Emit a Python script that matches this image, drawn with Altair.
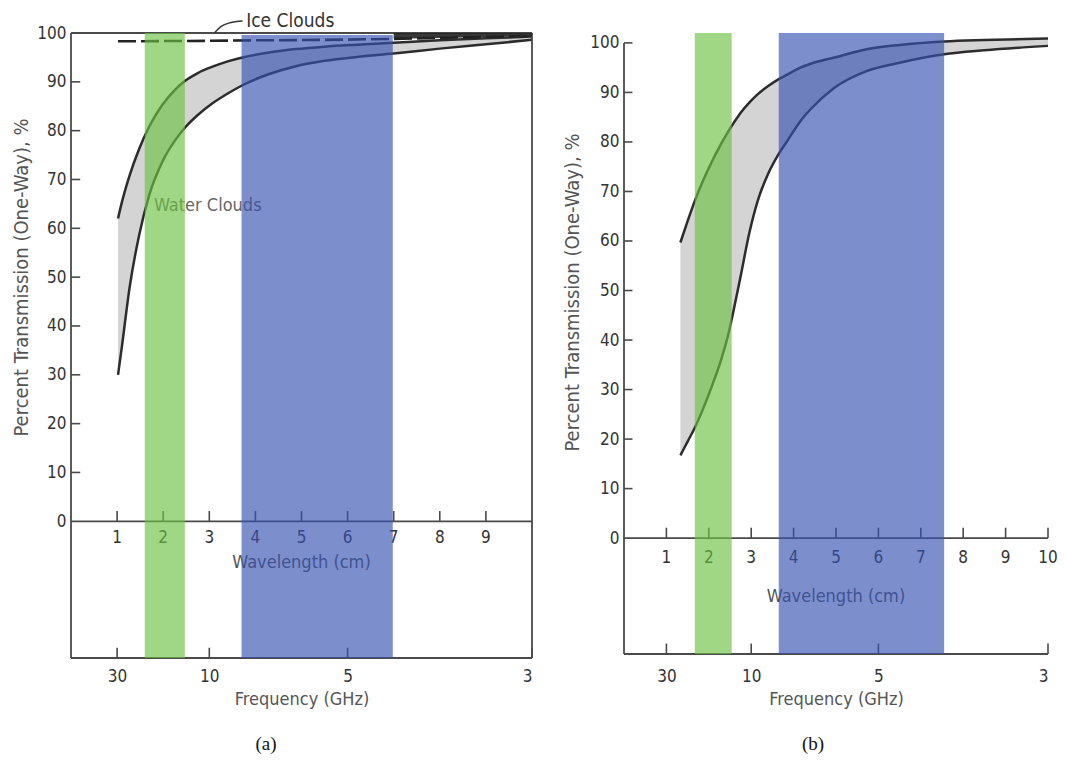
import altair as alt
import pandas as pd

FONT = "Liberation Sans Narrow, DejaVu Sans Condensed, Liberation Sans, sans-serif"
SERIF = "Liberation Serif, Times New Roman, serif"

# ---------------- data ----------------
# panel (a): water clouds envelope (wavelength in cm, % transmission)
a_wavelength = [1.02, 1.1, 1.27, 1.48, 1.7, 1.99, 2.25, 2.49, 2.75, 3.07, 3.4, 3.72, 4.3, 4.88, 5.5, 6.2, 7.0, 8.0, 9.0, 10.0]
a_upper = [62.0, 65.2, 70.8, 76.3, 80.9, 85.4, 88.3, 90.3, 91.8, 93.1, 94.2, 95.0, 96.0, 96.7, 97.2, 97.6, 98.0, 98.5, 98.9, 99.3]
a_lower = [30.0, 35.5, 47.8, 58.7, 66.9, 73.8, 77.9, 80.8, 83.2, 85.6, 87.6, 89.3, 91.6, 93.2, 94.3, 95.1, 95.8, 96.8, 97.7, 98.6]
# panel (a): ice clouds lower bound
ice_wavelength = [1.02, 2.0, 3.0, 4.0, 5.0, 6.0, 7.0, 8.0, 9.0, 10.0]
ice_lower = [98.3, 98.35, 98.4, 98.5, 98.55, 98.65, 98.8, 99.0, 99.2, 99.4]
# leader from the "Ice Clouds" label
leader_wavelength = [3.12, 3.25, 3.45, 3.72]
leader_pct = [100.1, 101.3, 102.1, 102.45]

# panel (b)
b_wavelength = [1.33, 1.5, 1.67, 1.86, 2.06, 2.29, 2.45, 2.6, 2.76, 2.95, 3.15, 3.4, 3.65, 3.85, 4.16, 4.4, 4.94, 5.72, 6.5, 7.55, 8.5, 10.0]
b_upper = [59.7, 64.0, 68.1, 72.1, 75.8, 79.6, 82.0, 84.0, 86.0, 87.9, 89.6, 91.3, 92.7, 93.6, 95.0, 95.8, 97.0, 98.7, 99.6, 100.3, 100.6, 100.9]
b_lower = [16.7, 19.5, 22.3, 26.0, 30.4, 36.0, 40.8, 46.6, 53.3, 61.4, 68.0, 73.6, 77.6, 80.2, 84.2, 86.6, 90.8, 94.3, 96.0, 97.7, 98.5, 99.4]

# highlighted bands (wavelength, cm)
band_names = ["green", "blue"]
band_colors = ["#6cc244", "#3552b0"]
a_band_from = [1.60, 3.70]
a_band_to = [2.47, 6.98]
a_band_top = [100.0, 99.6]
b_band_from = [1.67, 3.65]
b_band_to = [2.54, 7.55]
b_band_top = [102.0, 102.0]

pct_ticks = [0, 10, 20, 30, 40, 50, 60, 70, 80, 90, 100]
a_inner_ticks = [10, 20, 30, 40, 50, 60, 70, 80, 90]
b_inner_ticks = [10, 20, 30, 40, 50, 60, 70, 80, 90, 100]
a_wl_ticks = [1, 2, 3, 4, 5, 6, 7, 8, 9]
b_wl_ticks = [1, 2, 3, 4, 5, 6, 7, 8, 9, 10]
freq_ghz = [30, 10, 5, 3]
freq_pos = [30 / f for f in freq_ghz]   # wavelength (cm) = 30 / f (GHz)

LINE = "#2c2c2c"
FRAME = "#4a4a4a"
TICK_LEN_CM = 0.2
TICK_LEN_PCT = 2.1


def panel(wl, upper, lower, y_min, y_max, width, height, band_from, band_to, band_top,
          inner_ticks, wl_ticks, boxed, title_x, title_y, wl_dy, wl_title_dy,
          freq_pad, caption, caption_x, caption_dy, extra=None):
    xs = alt.Scale(domain=[0, 10], nice=False, zero=False)
    ys = alt.Scale(domain=[y_min, y_max], nice=False, zero=False)
    ax_x = alt.Axis(values=freq_pos, labelExpr="format(30/datum.value, 'd')",
                    ticks=False, domain=False, grid=False,
                    labelPadding=freq_pad, labelFont=FONT, labelFontSize=17,
                    labelColor="#333", title="Frequency (GHz)", titleFont=FONT,
                    titleFontSize=18, titleFontWeight="normal", titleColor="#555",
                    titlePadding=6)
    ax_y = alt.Axis(values=pct_ticks, ticks=False, domain=False, grid=False,
                    labelPadding=5, labelFont=FONT, labelFontSize=17, labelColor="#333",
                    title="Percent Transmission (One-Way), %", titleFont=FONT,
                    titleFontSize=20, titleFontWeight="normal", titleColor="#555",
                    titleX=title_x, titleY=title_y, titleAngle=270,
                    titleAlign="center", titleBaseline="middle")

    def X(f):
        return alt.X(f, scale=xs, axis=ax_x)

    def Y(f):
        return alt.Y(f, scale=ys, axis=ax_y)

    curves = pd.DataFrame({"wl": wl, "upper": upper, "lower": lower})
    long = pd.concat([
        pd.DataFrame({"wl": wl, "pct": upper, "s": "upper"}),
        pd.DataFrame({"wl": wl, "pct": lower, "s": "lower"}),
    ])

    shade = alt.Chart(curves).mark_area(color="#d4d4d4", opacity=1,
                                        interpolate="monotone").encode(
        x=X("wl:Q"), y=Y("lower:Q"), y2="upper:Q")

    lines = alt.Chart(long).mark_line(color=LINE, strokeWidth=2.5,
                                      interpolate="monotone").encode(
        x=X("wl:Q"), y=Y("pct:Q"), detail="s:N")

    layers = [shade, lines]

    # frame segments (from the axis domains)
    seg = {"x0": [0, 0, 0], "x1": [0, 10, 10], "y0": [y_min, 0, y_min], "y1": [100, 0, y_min]}
    if boxed:
        seg["x0"] += [0, 10]
        seg["x1"] += [10, 10]
        seg["y0"] += [100, y_min]
        seg["y1"] += [100, 100]
    layers.append(alt.Chart(pd.DataFrame(seg)).mark_rule(color=FRAME, strokeWidth=1.8).encode(
        x=X("x0:Q"), x2="x1:Q", y=Y("y0:Q"), y2="y1:Q"))

    # inward ticks on percent axis
    it = pd.DataFrame({"v": inner_ticks})
    it["x0"] = 0.0
    it["x1"] = TICK_LEN_CM
    layers.append(alt.Chart(it).mark_rule(color=FRAME, strokeWidth=1.6).encode(
        x=X("x0:Q"), x2="x1:Q", y=Y("v:Q")))

    # wavelength axis on the zero line
    wl_df = pd.DataFrame({"wl": wl_ticks, "lab": [str(v) for v in wl_ticks]})
    wl_df["y0"] = 0.0
    wl_df["y1"] = TICK_LEN_PCT
    layers.append(alt.Chart(wl_df).mark_rule(color=FRAME, strokeWidth=1.6).encode(
        x=X("wl:Q"), y=Y("y0:Q"), y2="y1:Q"))
    layers.append(alt.Chart(wl_df).mark_text(font=FONT, fontSize=17, color="#333",
                                             baseline="middle", dy=wl_dy).encode(
        x=X("wl:Q"), y=Y("y0:Q"), text="lab:N"))
    wt = pd.DataFrame({"x": [5.0], "y": [0.0], "t": ["Wavelength (cm)"]})
    layers.append(alt.Chart(wt).mark_text(font=FONT, fontSize=18, color="#555",
                                          baseline="middle", dy=wl_title_dy).encode(
        x=X("x:Q"), y=Y("y:Q"), text="t:N"))

    # upward ticks on the frequency axis
    ft = pd.DataFrame({"p": freq_pos})
    ft["y0"] = y_min
    ft["y1"] = y_min + TICK_LEN_PCT
    layers.append(alt.Chart(ft).mark_rule(color=FRAME, strokeWidth=1.6).encode(
        x=X("p:Q"), y=Y("y0:Q"), y2="y1:Q"))

    if extra:
        layers.extend(extra(X, Y))

    # caption
    cap = pd.DataFrame({"x": [caption_x], "y": [y_min], "t": [caption]})
    layers.append(alt.Chart(cap).mark_text(font=SERIF, fontSize=19, color="#111",
                                           baseline="middle", dy=caption_dy).encode(
        x=X("x:Q"), y=Y("y:Q"), text="t:N"))

    # translucent highlight bands on top
    bands = pd.DataFrame({"name": band_names, "x0": band_from, "x1": band_to,
                          "top": band_top, "col": band_colors})
    bands["bottom"] = y_min
    layers.append(alt.Chart(bands).mark_rect(opacity=0.65).encode(
        x=X("x0:Q"), x2="x1:Q", y=Y("bottom:Q"), y2="top:Q",
        color=alt.Color("col:N", scale=None)))

    return alt.layer(*layers).properties(width=width, height=height)


def ice_layers(X, Y):
    ice = pd.DataFrame({"wl": ice_wavelength, "low": ice_lower})
    ice["top"] = 100.0
    ice_dark = ice[ice["wl"] >= 7.0]
    lead = pd.DataFrame({"wl": leader_wavelength, "pct": leader_pct})
    labels = pd.DataFrame({"x": [3.8], "y": [102.46], "t": ["Ice Clouds"]})
    water = pd.DataFrame({"x": [1.8], "y": [64.6], "t": ["Water Clouds"]})
    return [
        alt.Chart(ice_dark).mark_area(color="#222", opacity=0.9).encode(
            x=X("wl:Q"), y=Y("low:Q"), y2="top:Q"),
        alt.Chart(ice).mark_line(color="#222", strokeWidth=2.6, strokeDash=[18, 5]).encode(
            x=X("wl:Q"), y=Y("low:Q")),
        alt.Chart(lead).mark_line(color="#333", strokeWidth=1.4, interpolate="monotone").encode(
            x=X("wl:Q"), y=Y("pct:Q")),
        alt.Chart(labels).mark_text(font=FONT, fontSize=19, color="#333", align="left",
                                    baseline="middle").encode(
            x=X("x:Q"), y=Y("y:Q"), text="t:N"),
        alt.Chart(water).mark_text(font=FONT, fontSize=18, color="#666", align="left",
                                   baseline="middle").encode(
            x=X("x:Q"), y=Y("y:Q"), text="t:N"),
    ]


chart_a = panel(a_wavelength, a_upper, a_lower, -28.0, 100.0, 461, 625,
                a_band_from, a_band_to, a_band_top, a_inner_ticks, a_wl_ticks, True,
                -50, 244, 17, 42, 10, "(a)", 4.23, 86, extra=ice_layers)
chart_b = panel(b_wavelength, b_upper, b_lower, -23.4, 102.0, 424, 621,
                b_band_from, b_band_to, b_band_top, b_inner_ticks, b_wl_ticks, False,
                -52, 259, 20, 59, 14, "(b)", 4.46, 90)

chart = alt.hconcat(chart_a, chart_b, spacing=92, bounds="flush").properties(
    padding={"top": 3, "left": 2, "right": 0, "bottom": 4}
).configure_view(stroke=None)

chart.save("out.html", embed_options={"renderer": "svg", "actions": False})
